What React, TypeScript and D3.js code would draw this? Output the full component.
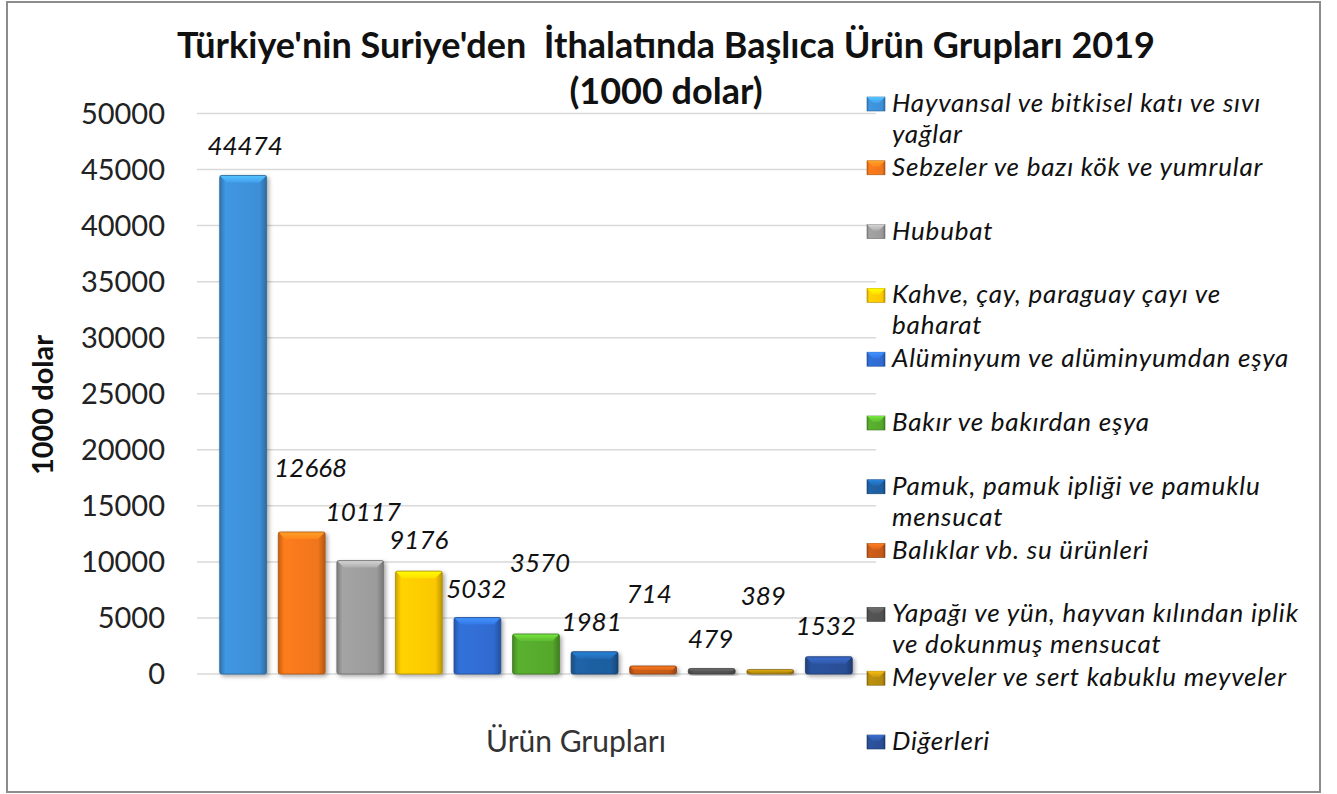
import React, { useEffect, useRef } from 'react';
import * as d3 from 'd3';

const categories = [
  'Hayvansal ve bitkisel katı ve sıvı\nyağlar',
  'Sebzeler ve bazı kök ve yumrular',
  'Hububat',
  'Kahve, çay, paraguay çayı ve\nbaharat',
  'Alüminyum ve alüminyumdan eşya',
  'Bakır ve bakırdan eşya',
  'Pamuk, pamuk ipliği ve pamuklu\nmensucat',
  'Balıklar vb. su ürünleri',
  'Yapağı ve yün, hayvan kılından iplik\nve dokunmuş mensucat',
  'Meyveler ve sert kabuklu meyveler',
  'Diğerleri',
];
const values = [44474, 12668, 10117, 9176, 5032, 3570, 1981, 714, 479, 389, 1532];
const yTicks = [0, 5000, 10000, 15000, 20000, 25000, 30000, 35000, 40000, 45000, 50000];
const colors = [
  '#3d8fd6', '#f0761a', '#9b9b9b', '#fcc800', '#2f6bd0', '#55a82c',
  '#1e5e9f', '#c45a18', '#515151', '#b3890e', '#2a4f96',
];
// label placement tweaks (dx, dy above bar top) as in the original
const labelDx = [2, 9, 3, 0, -1, 4, -3, -4, -1, -7, -3];
const labelDy = [20, 55, 40, 22, 20, 62, 21, 63, 21, 65, 22];

const titleLines = ["Türkiye'nin Suriye'den  İthalatında Başlıca Ürün Grupları 2019", '(1000 dolar)'];
const yTitle = '1000 dolar';
const xTitle = 'Ürün Grupları';

const W = 1337;
const H = 794;
const FONT = 'Lato, "Open Sans", sans-serif';

export default function App() {
  const ref = useRef<SVGSVGElement>(null);

  useEffect(() => {
    const svg = d3.select(ref.current);
    svg.selectAll('*').remove();

    const y = d3.scaleLinear().domain([0, 50000]).range([674, 113.5]);
    const x = d3.scaleBand<number>()
      .domain(values.map((_, i) => i))
      .range([208, 864])
      .padding(0.2);

    const defs = svg.append('defs');
    colors.forEach((c, i) => {
      const base = d3.color(c)!;
      const g = defs.append('linearGradient').attr('id', `bar${i}`)
        .attr('x1', 0).attr('x2', 1).attr('y1', 0).attr('y2', 0);
      g.append('stop').attr('offset', '0%').attr('stop-color', base.darker(0.6).toString());
      g.append('stop').attr('offset', '12%').attr('stop-color', base.brighter(0.15).toString());
      g.append('stop').attr('offset', '85%').attr('stop-color', base.toString());
      g.append('stop').attr('offset', '100%').attr('stop-color', base.darker(0.8).toString());
      const t = defs.append('linearGradient').attr('id', `top${i}`)
        .attr('x1', 0).attr('x2', 0).attr('y1', 0).attr('y2', 1);
      t.append('stop').attr('offset', '0%').attr('stop-color', base.brighter(0.9).toString());
      t.append('stop').attr('offset', '100%').attr('stop-color', base.brighter(0.3).toString());
    });
    const sh = defs.append('filter').attr('id', 'shadow').attr('x', '-20%').attr('y', '-20%')
      .attr('width', '150%').attr('height', '150%');
    sh.append('feDropShadow').attr('dx', 2).attr('dy', 2).attr('stdDeviation', 2)
      .attr('flood-color', '#000').attr('flood-opacity', 0.35);

    // frame
    svg.append('rect').attr('x', 7).attr('y', 2).attr('width', 1313).attr('height', 790)
      .attr('fill', '#fff').attr('stroke', '#8c8c8c').attr('stroke-width', 2);

    // gridlines + y ticks
    svg.append('g').selectAll('line').data(yTicks).enter().append('line')
      .attr('x1', 197).attr('x2', 876)
      .attr('y1', d => y(d)).attr('y2', d => y(d))
      .attr('stroke', '#d9d9d9').attr('stroke-width', 1.5);
    svg.append('g').selectAll('text').data(yTicks).enter().append('text')
      .attr('x', 165).attr('y', d => y(d) + 10)
      .attr('text-anchor', 'end')
      .attr('font-family', FONT).attr('font-size', 29).attr('fill', '#222')
      .text(d => String(d));

    // bars
    const bars = svg.append('g');
    values.forEach((v, i) => {
      const bx = x(i)!;
      const bw = x.bandwidth();
      const top = y(v);
      const h = y(0) - top;
      const g = bars.append('g').attr('filter', 'url(#shadow)');
      g.append('rect').attr('x', bx).attr('y', top).attr('width', bw).attr('height', h)
        .attr('rx', 2).attr('fill', `url(#bar${i})`);
      const bev = Math.min(7, h / 2);
      g.append('path')
        .attr('d', `M${bx},${top}L${bx + bw},${top}L${bx + bw - bev},${top + bev}L${bx + bev},${top + bev}Z`)
        .attr('fill', `url(#top${i})`);
      g.append('rect').attr('x', bx).attr('y', top).attr('width', bw).attr('height', h)
        .attr('rx', 2).attr('fill', 'none')
        .attr('stroke', d3.color(colors[i])!.darker(1).toString()).attr('stroke-width', 0.8);
    });

    // value labels
    svg.append('g').selectAll('text').data(values).enter().append('text')
      .attr('x', (d, i) => x(i)! + x.bandwidth() / 2 + labelDx[i])
      .attr('y', (d, i) => y(d) - labelDy[i])
      .attr('text-anchor', 'middle')
      .attr('font-family', FONT).attr('font-style', 'italic').attr('font-size', 26)
      .attr('fill', '#111')
      .text(d => String(d));

    // titles
    svg.append('g').selectAll('text').data(titleLines).enter().append('text')
      .attr('x', 666).attr('y', (d, i) => 58 + i * 46)
      .attr('text-anchor', 'middle')
      .attr('font-family', FONT).attr('font-weight', 'bold').attr('font-size', 36)
      .style('white-space', 'pre')
      .attr('fill', '#111')
      .text(d => d);

    svg.append('text')
      .attr('transform', 'translate(53,405) rotate(-90)')
      .attr('text-anchor', 'middle')
      .attr('font-family', FONT).attr('font-weight', 'bold').attr('font-size', 29)
      .attr('fill', '#111')
      .text(yTitle);

    svg.append('text')
      .attr('x', 576).attr('y', 752)
      .attr('text-anchor', 'middle')
      .attr('font-family', FONT).attr('font-size', 30)
      .attr('fill', '#333')
      .text(xTitle);

    // legend
    const leg = svg.append('g');
    categories.forEach((c, i) => {
      const cy = 104 + i * 63.8;
      leg.append('rect').attr('x', 867).attr('y', cy - 7).attr('width', 18).attr('height', 14)
        .attr('fill', `url(#bar${i})`).attr('stroke', d3.color(colors[i])!.darker(1).toString())
        .attr('stroke-width', 0.6);
      leg.append('path')
        .attr('d', `M867,${cy - 7}L885,${cy - 7}L879,${cy - 1}L873,${cy - 1}Z`)
        .attr('fill', `url(#top${i})`);
      c.split('\n').forEach((line, j) => {
        leg.append('text')
          .attr('x', 892).attr('y', cy + 8 + j * 31)
          .attr('font-family', FONT).attr('font-style', 'italic').attr('font-size', 26)
          .attr('letter-spacing', 0.8)
          .attr('fill', '#111')
          .text(line);
      });
    });
  }, []);

  return (
    <svg ref={ref} width={W} height={H}
      style={{ position: 'absolute', left: 0, top: 0, display: 'block', background: '#fff' }} />
  );
}
